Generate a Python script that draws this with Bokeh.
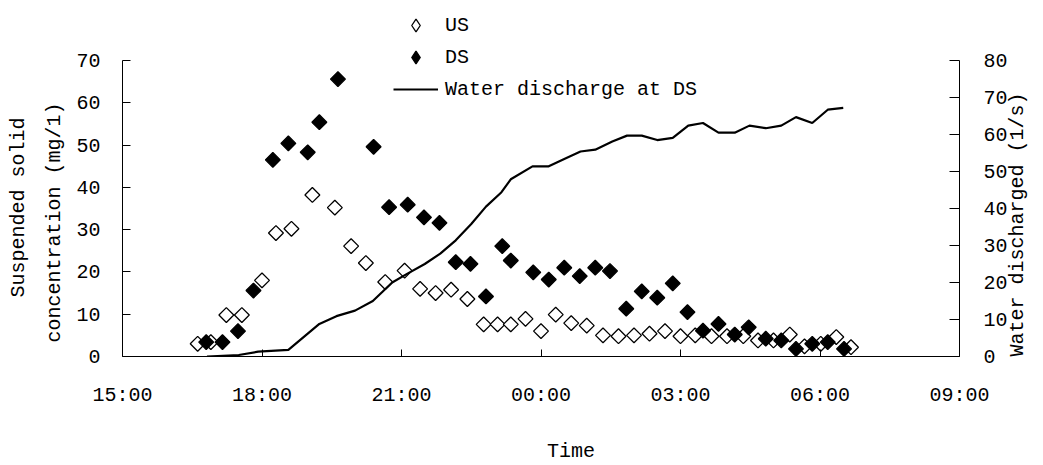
import math
from bokeh.plotting import figure
from bokeh.models import (Range1d, LinearAxis, FixedTicker, Legend, LegendItem,
                          Title, ColumnDataSource)
from bokeh.embed import file_html
from bokeh.resources import INLINE

# ---------------- data ----------------
us_time = ["16:37", "16:54", "17:14", "17:34", "18:00", "18:18", "18:38", "19:05",
           "19:34", "19:55", "20:14", "20:39", "21:04", "21:24", "21:44", "22:04",
           "22:25", "22:46", "23:04", "23:21", "23:40", "00:00", "00:19", "00:39",
           "00:59", "01:20", "01:40", "02:00", "02:20", "02:40", "03:00", "03:19",
           "03:40", "04:00", "04:21", "04:40", "05:00", "05:21", "05:40", "06:01",
           "06:21", "06:40"]
us_conc = [3.0, 3.4, 9.8, 9.8, 18.0, 29.2, 30.2, 38.2, 35.2, 26.1, 22.1, 17.6,
           20.3, 16.0, 15.0, 15.8, 13.6, 7.6, 7.6, 7.6, 8.9, 6.0, 9.9, 7.9, 7.3,
           5.0, 4.8, 5.0, 5.4, 6.0, 4.8, 5.0, 4.8, 4.8, 4.8, 3.8, 3.8, 5.2, 2.4,
           3.0, 4.6, 2.2]

ds_time = ["16:48", "17:09", "17:29", "17:49", "18:14", "18:34", "18:59", "19:14",
           "19:38", "20:24", "20:44", "21:08", "21:29", "21:49", "22:10", "22:29",
           "22:49", "23:10", "23:21", "23:50", "00:10", "00:30", "00:50", "01:10",
           "01:29", "01:50", "02:10", "02:30", "02:50", "03:09", "03:29", "03:49",
           "04:10", "04:28", "04:50", "05:10", "05:29", "05:50", "06:10", "06:31"]
ds_conc = [3.4, 3.4, 6.0, 15.6, 46.5, 50.4, 48.3, 55.4, 65.6, 49.6, 35.3, 35.9,
           32.9, 31.6, 22.3, 21.9, 14.2, 26.1, 22.7, 19.9, 18.2, 21.0, 19.0, 21.0,
           20.2, 11.3, 15.4, 13.9, 17.3, 10.5, 6.1, 7.7, 5.2, 6.9, 4.2, 3.8, 1.8,
           3.0, 3.4, 1.8]

q_time = ["16:49", "17:30", "17:55", "18:34", "19:14", "19:36", "20:00", "20:23",
          "20:48", "21:06", "21:30", "21:50", "22:10", "22:30", "22:49", "23:09",
          "23:21", "23:49", "00:10", "00:30", "00:51", "01:10", "01:32", "01:51",
          "02:10", "02:30", "02:50", "03:10", "03:29", "03:49", "04:10", "04:29",
          "04:50", "05:10", "05:29", "05:50", "06:10", "06:30"]
q_flow = [0.0, 0.4, 1.3, 1.8, 8.8, 10.9, 12.4, 15.0, 20.0, 22.2, 25.0, 27.8,
          31.4, 35.8, 40.5, 44.4, 47.9, 51.4, 51.4, 53.4, 55.4, 55.9, 58.1, 59.7,
          59.7, 58.5, 59.1, 62.4, 63.1, 60.5, 60.5, 62.4, 61.7, 62.4, 64.7, 63.1,
          66.7, 67.2]

x_tick_labels = ["15:00", "18:00", "21:00", "00:00", "03:00", "06:00", "09:00"]
left_ticks = [0, 10, 20, 30, 40, 50, 60, 70]
right_ticks = [0, 10, 20, 30, 40, 50, 60, 70, 80]


def hours(t):
    h, m = map(int, t.split(":"))
    v = h + m / 60.0
    if v < 12:
        v += 24
    return v - 15.0


FONT = "Liberation Mono"
W, H = 1043, 465
FRAME_BOTTOM = 356           # canvas px, frame top at canvas y = 0
FRAME_H = FRAME_BOTTOM
AX_PX = 296                  # pixels from 0 to 70 (left) / 0 to 80 (right)

x_ticks = [3 * i for i in range(len(x_tick_labels))]

p = figure(width=W, height=H, output_backend="svg", toolbar_location=None,
           x_range=Range1d(0, x_ticks[-1]),
           y_range=Range1d(0, left_ticks[-1] * FRAME_H / AX_PX),
           min_border_left=122, min_border_right=81, min_border_top=0,
           min_border_bottom=H - FRAME_BOTTOM,
           x_axis_type=None, y_axis_type=None)
p.outline_line_color = None
p.background_fill_color = "white"
p.border_fill_color = "white"
p.xgrid.visible = False
p.ygrid.visible = False

p.extra_y_ranges = {"q": Range1d(0, right_ticks[-1] * FRAME_H / AX_PX)}


def style_axis(ax, tick_in):
    ax.axis_line_color = "black"
    ax.axis_line_width = 1
    ax.major_tick_line_color = "black"
    ax.major_tick_in = tick_in
    ax.major_tick_out = 0
    ax.minor_tick_line_color = None
    ax.major_label_text_font = FONT
    ax.major_label_text_font_size = "20px"
    ax.major_label_text_color = "black"
    ax.axis_label_text_font = FONT
    ax.axis_label_text_font_size = "20px"
    ax.axis_label_text_font_style = "normal"
    ax.axis_label_text_color = "black"


xaxis = LinearAxis(ticker=FixedTicker(ticks=x_ticks), bounds=(0, x_ticks[-1]),
                   major_label_overrides={t: lab for t, lab in zip(x_ticks, x_tick_labels)})
style_axis(xaxis, 7)
xaxis.major_label_standoff = 27
xaxis.axis_label = "\u00a0" * 5 + "Time"
xaxis.axis_label_standoff = 30
p.add_layout(xaxis, "below")

yaxis = LinearAxis(ticker=FixedTicker(ticks=left_ticks), bounds=(0, left_ticks[-1]))
style_axis(yaxis, 8)
yaxis.major_label_standoff = 22
p.add_layout(yaxis, "left")

title_kw = dict(align="left", text_font=FONT, text_font_size="20px",
                text_font_style="normal", text_color="black")
p.add_layout(Title(text="concentration (mg/1)", offset=14, standoff=15, **title_kw), "left")
p.add_layout(Title(text="Suspended solid", offset=59, standoff=8, **title_kw), "left")

raxis = LinearAxis(y_range_name="q", ticker=FixedTicker(ticks=right_ticks),
                   bounds=(0, right_ticks[-1]))
style_axis(raxis, 10)
raxis.major_label_standoff = 24
raxis.axis_label = "Water discharged (1/s)"
raxis.axis_label_standoff = 7
if "axis_label_orientation" in raxis.properties():
    raxis.axis_label_orientation = math.pi / 2
if "axis_label_align" in raxis.properties():
    raxis.axis_label_align = "start"
p.add_layout(raxis, "right")

us_src = ColumnDataSource(dict(x=[hours(t) for t in us_time], y=us_conc))
ds_src = ColumnDataSource(dict(x=[hours(t) for t in ds_time], y=ds_conc))
q_src = ColumnDataSource(dict(x=[hours(t) for t in q_time], y=q_flow))

r_us = p.scatter("x", "y", source=us_src, marker="square", size=10.5, angle=math.pi / 4,
                 fill_color="white", line_color="black", line_width=1.3)
r_ds = p.scatter("x", "y", source=ds_src, marker="square", size=10.5, angle=math.pi / 4,
                 fill_color="black", line_color="black", line_width=1.3)
r_q = p.line("x", "y", source=q_src, y_range_name="q", line_color="black", line_width=2.2)

# legend keys: diamond markers that draw nothing on the chart itself
nan_pt = dict(x=[float("nan")], y=[float("nan")])
k_us = p.scatter("x", "y", source=ColumnDataSource(nan_pt), marker="diamond",
                 fill_color="white", line_color="black", line_width=1.3)
k_ds = p.scatter("x", "y", source=ColumnDataSource(nan_pt), marker="diamond",
                 fill_color="black", line_color="black", line_width=1.3)

legend = Legend(items=[LegendItem(label="US", renderers=[k_us]),
                       LegendItem(label="DS", renderers=[k_ds]),
                       LegendItem(label="Water discharge at DS", renderers=[r_q])],
                location=(271, 251), orientation="vertical",
                border_line_color=None, background_fill_alpha=0,
                padding=0, margin=0, spacing=0,
                glyph_width=45, glyph_height=32, label_height=32, label_standoff=7,
                label_text_font=FONT, label_text_font_size="20px",
                label_text_color="black")
p.add_layout(legend)

open("out.html", "w").write(file_html(p, INLINE))
